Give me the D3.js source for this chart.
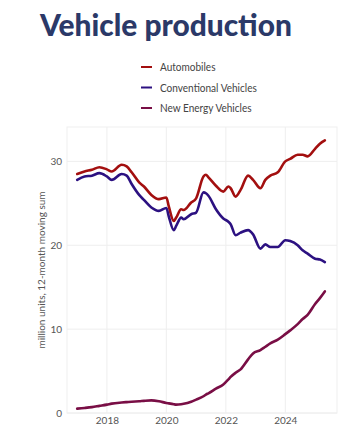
<!DOCTYPE html>
<html><head><meta charset="utf-8">
<script src="https://cdn.jsdelivr.net/npm/d3@7"></script>
<style>
html,body{margin:0;padding:0;background:#fff;}
svg{display:block;}
</style></head>
<body>
<svg id="chart" width="350" height="444"></svg>
<script>
const seriesNames = ["Automobiles", "Conventional Vehicles", "New Energy Vehicles"];
const seriesColors = ["#a30f0f", "#2c1181", "#790e45"];
const dates = ["2017-01","2017-04","2017-07","2017-10","2018-01","2018-03","2018-07","2018-09","2018-11",
"2019-02","2019-04","2019-07","2019-10","2020-01","2020-02","2020-04","2020-05","2020-07","2020-08","2020-11",
"2021-01","2021-04","2021-05","2021-06","2021-09","2021-12","2022-02","2022-03","2022-05","2022-07","2022-10",
"2022-12","2023-03","2023-05","2023-07","2023-10","2024-01","2024-03","2024-06","2024-08","2024-10","2025-01",
"2025-03","2025-05"];
const automobiles = [28.5,28.8,29.0,29.3,29.05,28.8,29.6,29.4,28.7,27.5,27.0,26.0,25.5,25.7,24.6,22.9,23.3,24.3,24.2,25.1,
25.6,28.2,28.4,28.1,27.1,26.4,27.0,26.8,25.8,26.6,28.3,27.8,26.8,27.8,28.3,28.7,30.0,30.3,30.8,30.8,30.6,31.5,32.1,32.5];
const conventional = [27.8,28.2,28.3,28.6,28.2,27.8,28.5,28.3,27.3,26.0,25.4,24.5,24.1,24.45,23.4,21.8,22.3,23.3,23.1,23.7,
23.9,26.3,26.2,25.9,24.3,23.2,22.8,22.5,21.2,21.5,21.8,21.3,19.6,20.1,19.8,19.8,20.6,20.5,20.0,19.4,19.0,18.4,18.3,18.0];
const newEnergy = [0.52,0.6,0.7,0.85,1.0,1.12,1.25,1.3,1.35,1.4,1.45,1.5,1.4,1.2,1.15,1.05,1.0,1.05,1.1,1.35,
1.6,2.0,2.2,2.35,2.9,3.4,4.0,4.3,4.8,5.2,6.4,7.1,7.5,7.9,8.3,8.75,9.4,9.85,10.6,11.2,11.7,13.0,13.7,14.5];
const yTicks = [0, 10, 20, 30];
const xTickYears = [2018, 2020, 2022, 2024];

const parse = d3.timeParse("%Y-%m");
const series = [automobiles, conventional, newEnergy].map((vals, i) => ({
  name: seriesNames[i], color: seriesColors[i],
  values: vals.map((v, j) => ({date: parse(dates[j]), value: v}))
}));

const svg = d3.select("#chart");
const m = {left: 67, right: 337, top: 127, bottom: 413};
const FONT = "Lato, 'Open Sans', sans-serif";

const x = d3.scaleTime().domain([new Date(2016, 7, 29), new Date(2025, 8, 27)]).range([m.left, m.right]);
const y = d3.scaleLinear().domain([0, 34.1]).range([m.bottom, m.top]);

// title (compressed horizontally to match the condensed original face)
const title = svg.append("text").attr("x", 0).attr("y", 0)
  .attr("font-family", FONT).attr("font-weight", 900)
  .attr("font-size", 31).attr("fill", "#2b3968").text("Vehicle production");
const tw = title.node().getComputedTextLength();
title.attr("transform", `translate(40,36) scale(${252 / tw},1)`);

// grid
const g = svg.append("g");
g.append("rect").attr("x", m.left).attr("y", m.top).attr("width", m.right - m.left).attr("height", m.bottom - m.top)
  .attr("fill", "none").attr("stroke", "#efefef");
g.selectAll(".hg").data(yTicks).join("line")
  .attr("x1", m.left).attr("x2", m.right).attr("y1", d => y(d)).attr("y2", d => y(d))
  .attr("stroke", "#eeeeee");
g.selectAll(".vg").data(xTickYears).join("line")
  .attr("y1", m.top).attr("y2", m.bottom).attr("x1", d => x(new Date(d, 0, 1))).attr("x2", d => x(new Date(d, 0, 1)))
  .attr("stroke", "#eeeeee");

// axes
const xAxis = d3.axisBottom(x).tickValues(xTickYears.map(d => new Date(d, 0, 1))).tickFormat(d3.timeFormat("%Y")).tickSize(0).tickPadding(4);
const yAxis = d3.axisLeft(y).tickValues(yTicks).tickSize(0).tickPadding(5);
const xa = svg.append("g").attr("transform", `translate(0,${m.bottom})`).call(xAxis);
const ya = svg.append("g").attr("transform", `translate(${m.left},0)`).call(yAxis);
[xa, ya].forEach(a => {
  a.select(".domain").remove();
  a.selectAll("text").attr("font-family", FONT).attr("font-size", 10).attr("fill", "#555");
});

svg.append("text").attr("transform", `translate(45,${(m.top + m.bottom) / 2}) rotate(-90)`)
  .attr("text-anchor", "middle").attr("font-family", FONT)
  .attr("font-size", 10).attr("fill", "#555").text("million units, 12-month moving sum");

// lines
const line = d3.line().x(d => x(d.date)).y(d => y(d.value)).curve(d3.curveMonotoneX);
svg.append("g").selectAll("path").data(series).join("path")
  .attr("d", d => line(d.values)).attr("fill", "none").attr("stroke", d => d.color)
  .attr("stroke-width", 2.6).attr("stroke-linejoin", "round").attr("stroke-linecap", "round");

// legend
const lg = svg.append("g").selectAll("g").data(series).join("g")
  .attr("transform", (d, i) => `translate(141,${67 + i * 20.5})`);
lg.append("line").attr("x1", 0).attr("x2", 11).attr("stroke", d => d.color).attr("stroke-width", 2);
const lt = lg.append("text").attr("dy", "0.35em").attr("font-family", FONT)
  .attr("font-size", 11.5).attr("fill", "#444").text(d => d.name);
const convW = lt.filter((d, i) => i === 1).node().getComputedTextLength();
lt.attr("transform", `translate(19,0) scale(${97 / convW},1)`);
</script>
</body></html>
